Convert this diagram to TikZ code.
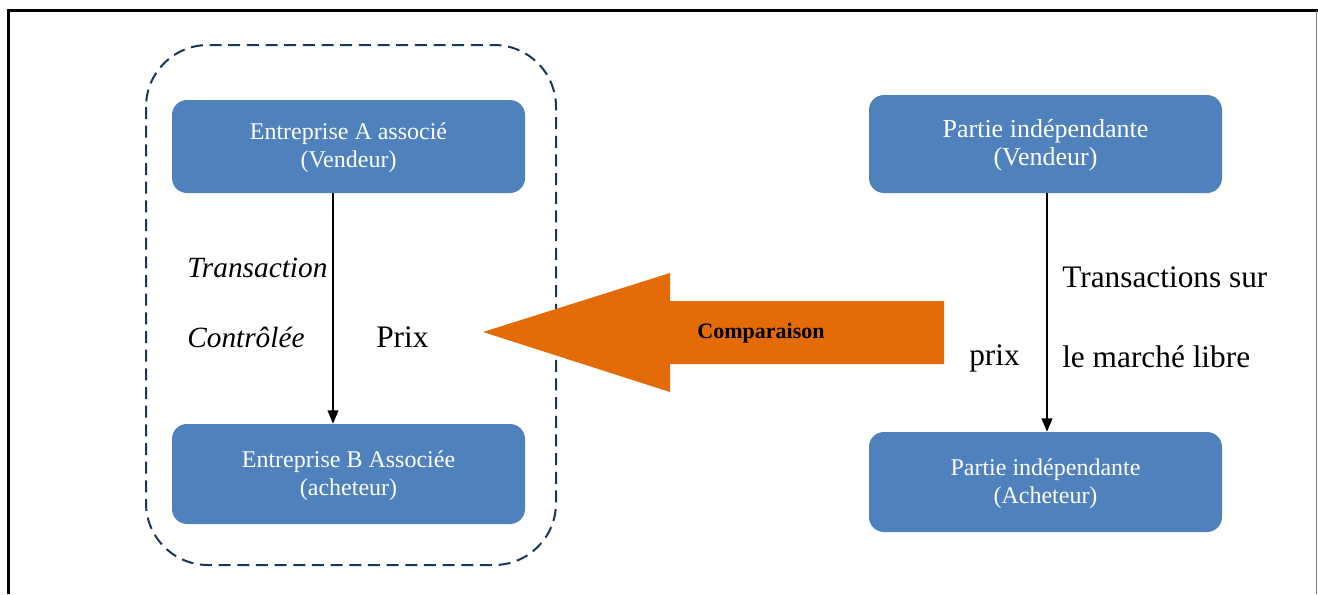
\documentclass[tikz,border=0pt]{standalone}
\usepackage{fontspec}
\setmainfont{Liberation Serif}
\usetikzlibrary{arrows.meta}
\definecolor{boxblue}{HTML}{4F81BD}
\definecolor{navy}{HTML}{17365D}
\definecolor{orangec}{HTML}{E36C09}
\tikzset{
  bluebox/.style={fill=boxblue, draw=none, rounded corners=15*0.75pt, text=white,
    minimum width=353*0.75pt, align=center, font=\fontsize{18}{21}\selectfont},
  flow/.style={-{Triangle[length=10pt,width=8pt]}, line width=1.3pt, black},
  lbl/.style={font=\fontsize{23.5}{26}\selectfont, inner sep=0pt},
  ilbl/.style={font=\itshape\fontsize{22}{26}\selectfont, inner sep=0pt},
}
\begin{document}
\begin{tikzpicture}[x=0.75pt,y=-0.75pt]
\useasboundingbox (0,0) rectangle (1318,594);
% frame
\draw[line width=2.4pt] (8.5,594) -- (8.5,10.5) -- (1318,10.5);
\draw[gray, line width=0.8pt] (1316.5,10.5) -- (1316.5,594);
% dashed group
\draw[navy, line width=1.5pt, dash pattern=on 9pt off 5pt, rounded corners=62*0.75pt]
  (146,45) rectangle (556,565);
% boxes
\node[bluebox, minimum height=93*0.75pt] (A) at (348.5,146.5) {\strut Entreprise A associé\\(Vendeur)};
\node[bluebox, minimum height=100*0.75pt] (B) at (348.5,474) {\strut Entreprise B Associée\\(acheteur)};
\node[bluebox, minimum height=98*0.75pt, font=\fontsize{19.5}{21}\selectfont] (C) at (1045.5,144) {\strut Partie indépendante\\(Vendeur)};
\node[bluebox, minimum height=100*0.75pt] (D) at (1045.5,482) {\strut Partie indépendante\\(Acheteur)};
% connectors
\draw[flow] (A.south -| 333,0) -- (B.north -| 333,0);
\draw[flow] (C.south -| 1047,0) -- (D.north -| 1047,0);
% labels left
\node[ilbl, anchor=west] (t1) at (187,268) {Transaction};
\node[ilbl, anchor=west] (t2) at (187,337) {Contrôlée};
\node[lbl, anchor=west] (prix1) at (376,337) {Prix};
% labels right
\node[lbl, anchor=west] (r1) at (1062,277) {Transactions sur};
\node[lbl, anchor=west] (r2) at (1062,357) {le marché libre};
\node[lbl, anchor=west] (prix2) at (969,358) {prix};
% orange arrow
\fill[orangec] (483,332) -- (670,273) -- (670,301) -- (944,301) -- (944,364) -- (670,364) -- (670,392) -- cycle;
\node[font=\bfseries\fontsize{16.5}{18}\selectfont, inner sep=0pt] (comp) at (761,333) {Comparaison};
\end{tikzpicture}
\end{document}
